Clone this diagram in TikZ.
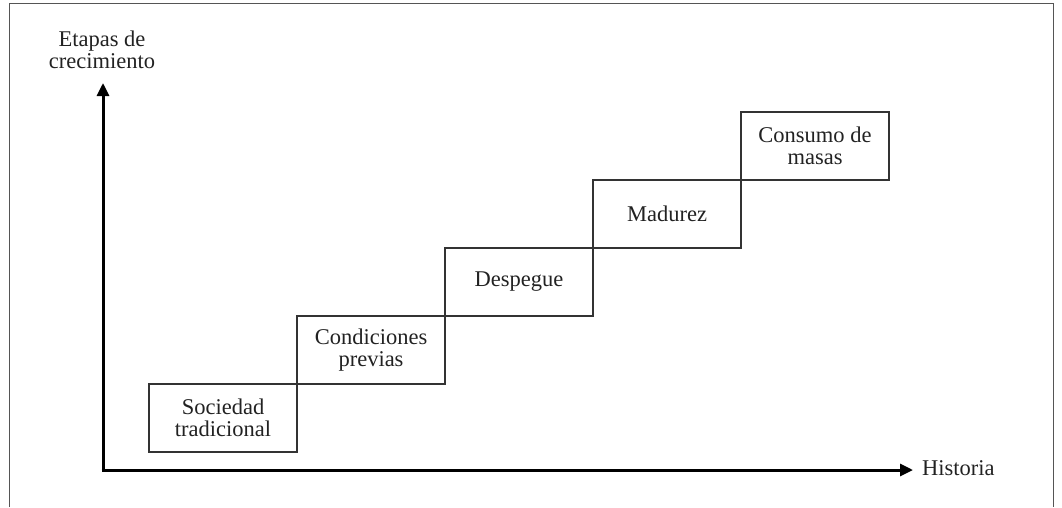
\documentclass[tikz,border=0pt]{standalone}
\usepackage{fontspec}
\setmainfont{Liberation Serif}
\usetikzlibrary{arrows.meta}
\definecolor{txt}{HTML}{222222}
\definecolor{boxline}{HTML}{333333}
\definecolor{frameline}{HTML}{555555}
\begin{document}
\begin{tikzpicture}[x=1pt,y=-1pt,
  stage/.style={draw=boxline,line width=1.2pt,minimum width=148pt,minimum height=68pt,
    inner sep=0pt,outer sep=0pt,anchor=south west,align=center,text=txt,
    font=\fontsize{22.5}{21.5}\selectfont},
  lbl/.style={text=txt,align=center,inner sep=0pt,font=\fontsize{22.5}{21.5}\selectfont},
  axis/.style={line width=3pt,-{Triangle[length=13pt,width=12pt]}}]
\useasboundingbox (0,0) rectangle (1062,507);
\draw[frameline,line width=1pt] (9,507) -- (9,3) -- (1053,3) -- (1053,507);
\coordinate (o) at (103,470);
\coordinate (ytip) at (103,83);
\coordinate (xtip) at (913,470);
\draw[axis] (o) -- (ytip);
\draw[axis] ([xshift=-1.5pt]o) -- (xtip);
\node[lbl,anchor=base] (ylab) at (102,68) {Etapas de\\crecimiento};
\node[lbl,anchor=base west] (xlab) at (922,475) {Historia};
\node[stage] (s1) at (149,452) {Sociedad\\tradicional};
\node[stage] (s2) at (s1.north east) {Condiciones\\previas};
\node[stage] (s3) at (s2.north east) {Despegue};
\node[stage] (s4) at (s3.north east) {Madurez};
\node[stage] (s5) at (s4.north east) {Consumo de\\masas};
\end{tikzpicture}
\end{document}
